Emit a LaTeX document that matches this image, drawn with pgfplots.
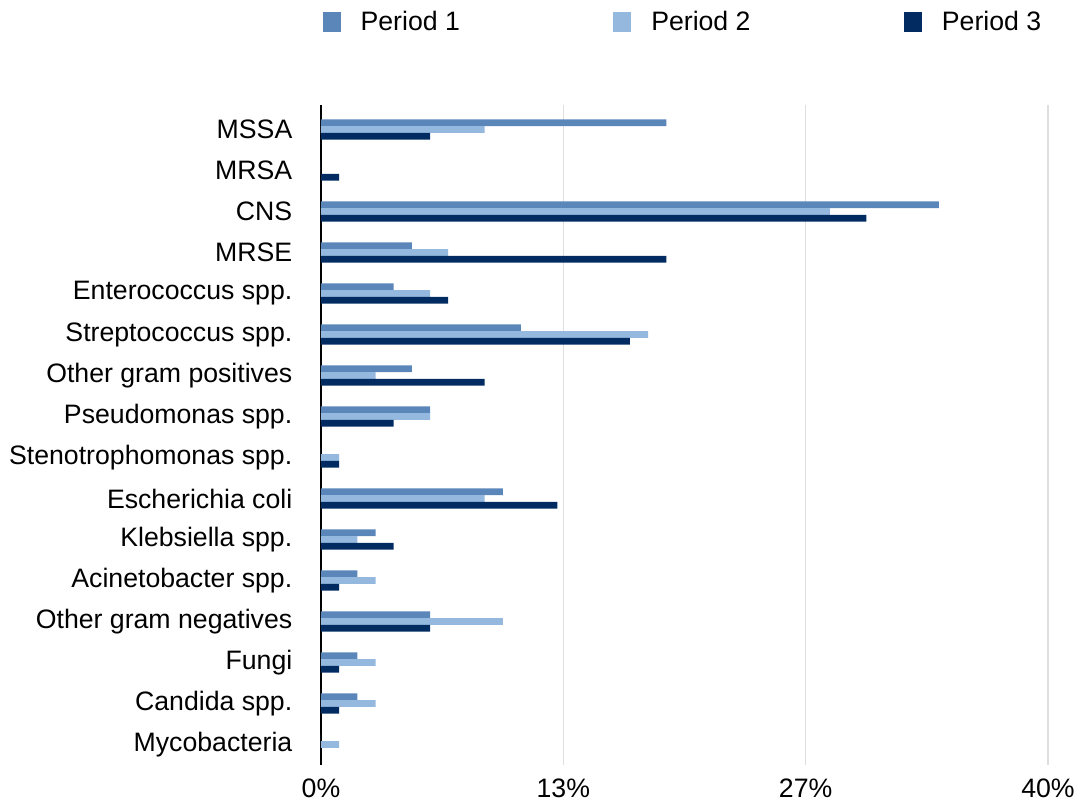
\documentclass[border=0pt]{standalone}
\usepackage{pgfplots}
\pgfplotsset{compat=1.18}
\usepackage{fontspec}
\setmainfont{Liberation Sans}
\definecolor{pone}{HTML}{5B86BA}
\definecolor{ptwo}{HTML}{94B8DE}
\definecolor{pthree}{HTML}{022C61}
\begin{document}
\begin{tikzpicture}
\begin{axis}[
  scale only axis,
  width=545.25pt, height=495pt,
  xbar, bar width=0.165,
  xmin=0, xmax=40,
  ymin=-0.6, ymax=15.5,
  y dir=reverse,
  axis lines*=left,
  x axis line style={draw=none},
  y axis line style={-, black, line width=1.6pt},
  xtick={0,13.3333,26.6667,40},
  xticklabels={0\%,13\%,27\%,40\%},
  ytick={0,...,15},
  yticklabels={MSSA,MRSA,CNS,MRSE,Enterococcus spp.,Streptococcus spp.,Other gram positives,Pseudomonas spp.,Stenotrophomonas spp.,Escherichia coli,Klebsiella spp.,Acinetobacter spp.,Other gram negatives,Fungi,Candida spp.,Mycobacteria},
  major tick length=0pt,
  xmajorgrids,
  grid style={gray!25, line width=0.8pt},
  tick label style={font=\fontsize{20}{24}\selectfont},
  yticklabel style={xshift=-18pt},
  xticklabel style={yshift=-7pt},
  legend columns=3,
  legend style={at={(axis description cs:0,1)}, anchor=west, yshift=62pt, xshift=1pt,
    draw=none, inner sep=0pt, font=\fontsize{20}{24}\selectfont,
    /tikz/every odd column/.style={column sep=13pt},
    /tikz/column 2/.style={column sep=113pt},
    /tikz/column 4/.style={column sep=113pt}},
  legend image code/.code={\fill[#1] (0pt,-7.5pt) rectangle (13.5pt,7.5pt);},
]
\addplot[fill=pone, draw=none, bar shift=-0.165] coordinates {
(19,0) (0,1) (34,2) (5,3) (4,4) (11,5) (5,6) (6,7) (0,8) (10,9) (3,10) (2,11) (6,12) (2,13) (2,14) (0,15)};
\addplot[fill=ptwo, draw=none, bar shift=0] coordinates {
(9,0) (0,1) (28,2) (7,3) (6,4) (18,5) (3,6) (6,7) (1,8) (9,9) (2,10) (3,11) (10,12) (3,13) (3,14) (1,15)};
\addplot[fill=pthree, draw=none, bar shift=0.165] coordinates {
(6,0) (1,1) (30,2) (19,3) (7,4) (17,5) (9,6) (4,7) (1,8) (13,9) (4,10) (1,11) (6,12) (1,13) (1,14) (0,15)};
\legend{Period 1,Period 2,Period 3}
\end{axis}
\pgfresetboundingbox
\useasboundingbox ([xshift=-240.75pt,yshift=-30pt]current axis.south west) rectangle ([xshift=21pt,yshift=78.75pt]current axis.north east);
\end{tikzpicture}
\end{document}
